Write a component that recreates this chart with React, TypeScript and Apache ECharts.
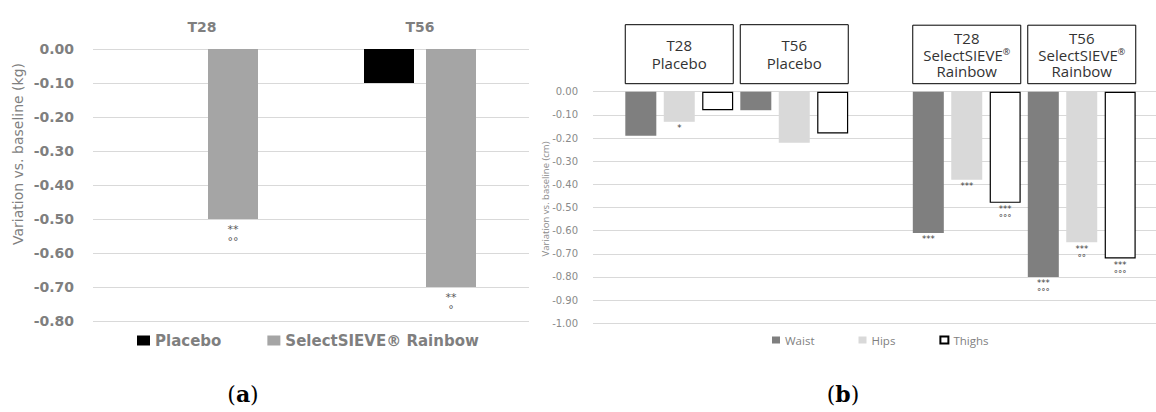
import React, { useEffect, useRef } from 'react';
import * as echarts from 'echarts';

// ---- Chart (a): body weight ----
const weightCategories = ['T28', 'T56'];
const weightPlacebo = [0, -0.1];
const weightSelectSieve = [-0.5, -0.7];
const weightPlaceboMarks = ['', ''];
const weightSelectSieveMarks = ['**\n°°', '**\n°'];

// ---- Chart (b): circumferences ----
const sizeCategories = ['', 'T28\nPlacebo', '', 'T56\nPlacebo', '', '', 'T28\nSelectSIEVE®\nRainbow', '', 'T56\nSelectSIEVE®\nRainbow', ''];
const waist = [null, -0.19, null, -0.08, null, null, -0.61, null, -0.8, null];
const hips = [null, -0.13, null, -0.22, null, null, -0.38, null, -0.65, null];
const thighs = [null, -0.08, null, -0.18, null, null, -0.48, null, -0.72, null];
const waistMarks = ['', '', '', '', '', '', '***', '', '***\n°°°', ''];
const hipsMarks = ['', '*', '', '', '', '', '***', '', '***\n°°', ''];
const thighsMarks = ['', '', '', '', '', '', '***\n°°°', '', '***\n°°°', ''];

const GRAY = '#7f7f7f';
const GRID = '#d9d9d9';

export default function App() {
  const ref = useRef<HTMLDivElement>(null);
  useEffect(() => {
    if (!ref.current) return;
    const chart = echarts.init(ref.current, undefined, { renderer: 'svg' });

    const labelA = (marks: string[]) => ({
      show: true,
      position: 'bottom' as const,
      distance: 4,
      fontFamily: 'DejaVu Sans',
      fontSize: 11,
      lineHeight: 12.5,
      color: '#595959',
      formatter: (p: any) => marks[p.dataIndex] || '',
    });
    const labelB = (marks: string[]) => ({
      show: true,
      position: 'bottom' as const,
      distance: 2,
      fontFamily: 'DejaVu Sans',
      fontSize: 8.5,
      lineHeight: 9,
      color: '#404040',
      formatter: (p: any) => marks[p.dataIndex] || '',
    });

    const sizeAxisData = sizeCategories.map((c) => {
      if (!c) return { value: c };
      const isSS = c.indexOf('SelectSIEVE') >= 0;
      return {
        value: c,
        textStyle: {
          borderColor: '#000',
          borderWidth: 1,
          width: 108,
          align: 'center',
          lineHeight: isSS ? 16.5 : 17.5,
          padding: isSS ? [5, 0, 4, 0] : [12, 0, 12, 0],
          rich: {
            sup: { fontFamily: 'Open Sans', fontSize: 9, lineHeight: 16.5, verticalAlign: 'top', color: '#333' },
          },
        },
      };
    });

    chart.setOption({
      animation: false,
      grid: [
        { left: 93, top: 49, width: 436, height: 272 },
        { left: 593, top: 91.7, width: 575, height: 231.6 },
      ],
      xAxis: [
        {
          type: 'category',
          gridIndex: 0,
          position: 'top',
          data: weightCategories,
          axisLine: { show: false },
          axisTick: { show: false },
          axisLabel: { margin: 15, fontFamily: 'DejaVu Sans', fontWeight: 'bold', fontSize: 14, color: GRAY },
        },
        {
          type: 'category',
          gridIndex: 1,
          position: 'top',
          data: sizeAxisData,
          axisLine: { show: false },
          axisTick: { show: false },
          axisLabel: {
            interval: 0,
            margin: 8,
            fontFamily: 'Open Sans',
            fontSize: 15,
            color: '#333',
            formatter: (v: string) => v.replace('®', '{sup|®}'),
          },
        },
      ],
      yAxis: [
        {
          type: 'value',
          gridIndex: 0,
          min: -0.8,
          max: 0,
          interval: 0.1,
          axisLine: { show: false },
          axisTick: { show: false },
          splitLine: { lineStyle: { color: GRID, width: 1 } },
          axisLabel: {
            margin: 19,
            fontFamily: 'DejaVu Sans',
            fontWeight: 'bold',
            fontSize: 14,
            color: GRAY,
            formatter: (v: number) => v.toFixed(2),
          },
        },
        {
          type: 'value',
          gridIndex: 1,
          min: -1,
          max: 0,
          interval: 0.1,
          axisLine: { show: false },
          axisTick: { show: false },
          splitLine: { lineStyle: { color: GRID, width: 1 } },
          axisLabel: {
            margin: 15,
            fontFamily: 'DejaVu Sans',
            fontSize: 10,
            color: '#8a8a8a',
            formatter: (v: number) => v.toFixed(2),
          },
        },
      ],
      legend: [
        {
          data: ['Placebo', 'SelectSIEVE® Rainbow'],
          left: 137,
          top: 333,
          padding: 0,
          icon: 'rect',
          itemWidth: 13,
          itemHeight: 10,
          itemGap: 46,
          textStyle: { fontFamily: 'DejaVu Sans', fontWeight: 'bold', fontSize: 15, color: GRAY },
        },
        {
          data: ['Waist', 'Hips', 'Thighs'],
          left: 772,
          top: 334,
          padding: 0,
          icon: 'rect',
          itemWidth: 8,
          itemHeight: 7,
          itemGap: 44,
          textStyle: { fontFamily: 'Open Sans', fontSize: 11.5, color: GRAY },
        },
      ],
      series: [
        {
          type: 'bar',
          name: 'Placebo',
          xAxisIndex: 0,
          yAxisIndex: 0,
          data: weightPlacebo,
          barWidth: 50,
          barGap: '24%',
          itemStyle: { color: '#000000' },
          label: labelA(weightPlaceboMarks),
        },
        {
          type: 'bar',
          name: 'SelectSIEVE® Rainbow',
          xAxisIndex: 0,
          yAxisIndex: 0,
          data: weightSelectSieve,
          barWidth: 50,
          barGap: '24%',
          itemStyle: { color: '#a5a5a5' },
          label: labelA(weightSelectSieveMarks),
        },
        {
          type: 'bar',
          name: 'Waist',
          xAxisIndex: 1,
          yAxisIndex: 1,
          data: waist,
          barWidth: 31,
          barGap: '24%',
          itemStyle: { color: '#7f7f7f' },
          label: labelB(waistMarks),
        },
        {
          type: 'bar',
          name: 'Hips',
          xAxisIndex: 1,
          yAxisIndex: 1,
          data: hips,
          barWidth: 31,
          barGap: '24%',
          itemStyle: { color: '#d9d9d9' },
          label: labelB(hipsMarks),
        },
        {
          type: 'bar',
          name: 'Thighs',
          xAxisIndex: 1,
          yAxisIndex: 1,
          data: thighs,
          barWidth: 31,
          barGap: '24%',
          itemStyle: { color: '#ffffff', borderColor: '#000000', borderWidth: 1.2 },
          label: labelB(thighsMarks),
        },
      ],
      graphic: [
        {
          type: 'text',
          x: 18,
          y: 154,
          rotation: Math.PI / 2,
          style: {
            text: 'Variation vs. baseline (kg)',
            fontFamily: 'DejaVu Sans',
            fontSize: 14,
            fill: GRAY,
            align: 'center',
            verticalAlign: 'middle',
          },
        },
        {
          type: 'text',
          x: 545,
          y: 199,
          rotation: Math.PI / 2,
          style: {
            text: 'Variation vs. baseline (cm)',
            fontFamily: 'Open Sans',
            fontSize: 9.5,
            fill: '#8a8a8a',
            align: 'center',
            verticalAlign: 'middle',
          },
        },
        {
          type: 'text',
          x: 243,
          y: 394,
          style: {
            text: '{n|(}{b|a}{n|)}',
            align: 'center',
            verticalAlign: 'middle',
            rich: {
              n: { fontFamily: 'DejaVu Serif', fontSize: 22, fill: '#000' },
              b: { fontFamily: 'DejaVu Serif', fontSize: 22, fontWeight: 'bold', fill: '#000' },
            },
          },
        },
        {
          type: 'text',
          x: 843,
          y: 394,
          style: {
            text: '{n|(}{b|b}{n|)}',
            align: 'center',
            verticalAlign: 'middle',
            rich: {
              n: { fontFamily: 'DejaVu Serif', fontSize: 22, fill: '#000' },
              b: { fontFamily: 'DejaVu Serif', fontSize: 22, fontWeight: 'bold', fill: '#000' },
            },
          },
        },
      ],
    });

    return () => chart.dispose();
  }, []);

  return (
    <div style={{ position: 'absolute', left: 0, top: 0, width: 1156, height: 412, overflow: 'hidden' }}>
      <div ref={ref} style={{ width: 1200, height: 412 }} />
    </div>
  );
}
